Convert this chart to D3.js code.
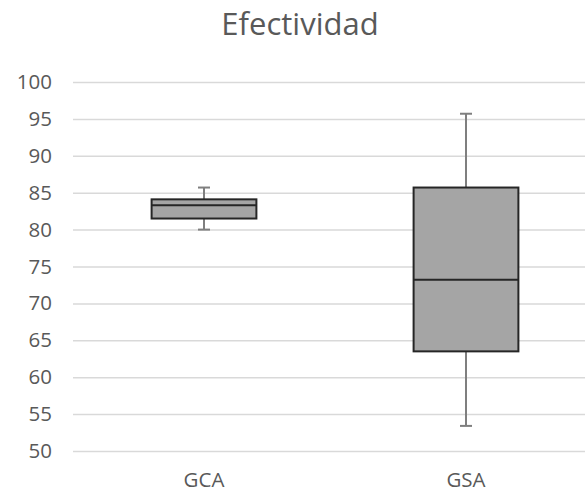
<!DOCTYPE html>
<html>
<head>
<meta charset="utf-8">
<script src="https://cdn.jsdelivr.net/npm/d3@7"></script>
<style>
  html, body { margin: 0; padding: 0; background: #fff; }
  svg { display: block; }
  text { font-family: "Open Sans", "DejaVu Sans", sans-serif; }
</style>
</head>
<body>
<div id="chart"></div>
<script>
// Box plot summary per group
const categories = ["GCA", "GSA"];
const mins    = [80.0, 53.4];
const q1s     = [81.5, 63.5];
const medians = [83.3, 73.2];
const q3s     = [84.1, 85.7];
const maxs    = [85.7, 95.7];
const yTicks  = [50, 55, 60, 65, 70, 75, 80, 85, 90, 95, 100];
const title   = "Efectividad";

const W = 585, H = 492;
const margin = { top: 82, left: 73, bottom: H - 451 };
const plotRight = 597;

const svg = d3.select("#chart").append("svg")
  .attr("width", W).attr("height", H);

const y = d3.scaleLinear().domain([50, 100]).range([H - margin.bottom, margin.top]);
const x = d3.scaleBand().domain(categories).range([margin.left, plotRight])
  .paddingInner(0.6).paddingOuter(0.3);

// Title
svg.append("text")
  .attr("x", 300).attr("y", 35)
  .attr("text-anchor", "middle")
  .attr("font-size", 31)
  .attr("fill", "#595959")
  .text(title);

// Horizontal gridlines + y labels via axis
const yAxis = d3.axisLeft(y).tickValues(yTicks).tickSize(-(plotRight - margin.left)).tickPadding(21);
const gy = svg.append("g").attr("transform", `translate(${margin.left},0)`).call(yAxis);
gy.select(".domain").remove();
gy.selectAll(".tick line").attr("stroke", "#d9d9d9").attr("stroke-width", 1.5);
gy.selectAll(".tick text").attr("fill", "#595959").attr("font-size", 20.5);

// Category labels
const xAxis = d3.axisBottom(x).tickSize(0).tickPadding(21);
const gx = svg.append("g").attr("transform", `translate(0,${H - margin.bottom})`).call(xAxis);
gx.select(".domain").remove();
gx.selectAll(".tick text").attr("fill", "#595959").attr("font-size", 20.5);

const data = categories.map((c, i) => ({
  c, min: mins[i], q1: q1s[i], med: medians[i], q3: q3s[i], max: maxs[i]
}));

const g = svg.selectAll(".box").data(data).join("g").attr("class", "box");
const cx = d => x(d.c) + x.bandwidth() / 2;
const capW = 12;

// Whiskers
g.append("line")
  .attr("x1", cx).attr("x2", cx)
  .attr("y1", d => y(d.max)).attr("y2", d => y(d.q3))
  .attr("stroke", "#7f7f7f").attr("stroke-width", 2);
g.append("line")
  .attr("x1", cx).attr("x2", cx)
  .attr("y1", d => y(d.q1)).attr("y2", d => y(d.min))
  .attr("stroke", "#7f7f7f").attr("stroke-width", 2);
g.append("line")
  .attr("x1", d => cx(d) - capW / 2).attr("x2", d => cx(d) + capW / 2)
  .attr("y1", d => y(d.max)).attr("y2", d => y(d.max))
  .attr("stroke", "#7f7f7f").attr("stroke-width", 2);
g.append("line")
  .attr("x1", d => cx(d) - capW / 2).attr("x2", d => cx(d) + capW / 2)
  .attr("y1", d => y(d.min)).attr("y2", d => y(d.min))
  .attr("stroke", "#7f7f7f").attr("stroke-width", 2);

// Boxes
g.append("rect")
  .attr("x", d => x(d.c)).attr("width", x.bandwidth())
  .attr("y", d => y(d.q3)).attr("height", d => y(d.q1) - y(d.q3))
  .attr("fill", "#a5a5a5").attr("stroke", "#262626").attr("stroke-width", 2);

// Medians
g.append("line")
  .attr("x1", d => x(d.c)).attr("x2", d => x(d.c) + x.bandwidth())
  .attr("y1", d => y(d.med)).attr("y2", d => y(d.med))
  .attr("stroke", "#262626").attr("stroke-width", 2);
</script>
</body>
</html>
